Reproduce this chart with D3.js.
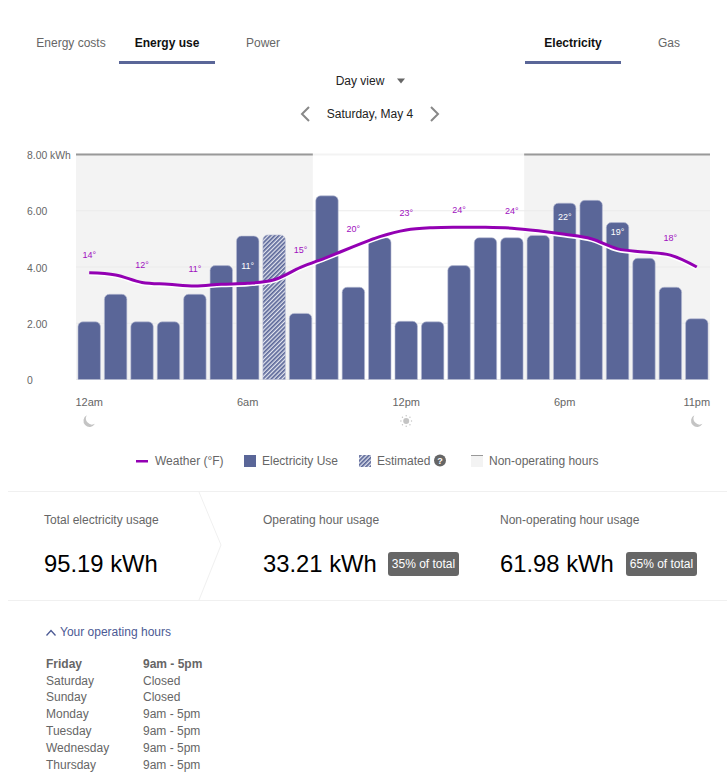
<!DOCTYPE html>
<html>
<head>
<meta charset="utf-8">
<script src="https://cdn.jsdelivr.net/npm/d3@7"></script>
<style>
  html, body { margin: 0; padding: 0; background: #fff; }
  svg { display: block; }
  text { font-family: "Liberation Sans", Arial, sans-serif; }
</style>
</head>
<body>
<div id="chart"></div>
<script>
// values
const hourLabels = ["12am","1am","2am","3am","4am","5am","6am","7am","8am","9am","10am","11am",
                    "12pm","1pm","2pm","3pm","4pm","5pm","6pm","7pm","8pm","9pm","10pm","11pm"];
const usage = [2.05,3.03,2.05,2.05,3.03,4.05,5.1,5.14,2.35,6.53,3.28,5.04,
               2.07,2.05,4.05,5.04,5.04,5.12,6.27,6.37,5.58,4.31,3.28,2.16];
const estimatedHours = ["7am"];
const weather = [13.7,13.2,11.5,11.1,10.7,11.1,11.3,12.1,14.9,17.2,19.6,21.9,
                 23.4,23.9,24,24,23.8,23.2,22.4,21.4,19.1,18.4,17.7,15.0];
const tempLabelHours = ["12am","2am","4am","6am","8am","10am","12pm","2pm","4pm","6pm","8pm","10pm"];
const tempLabels = [14,12,11,11,15,20,23,24,24,22,19,18];
const tempLabelsOnBar = ["6am","6pm","8pm"];
const yTicks = [0,2,4,6,8];
const xTickHours = ["12am","6am","12pm","6pm","11pm"];
const nonOperating = [["12am","8am"],["5pm","11pm"]];
const leftTabs = ["Energy costs","Energy use","Power"];
const rightTabs = ["Electricity","Gas"];
const days = ["Friday","Saturday","Sunday","Monday","Tuesday","Wednesday","Thursday"];
const dayHours = ["9am - 5pm","Closed","Closed","9am - 5pm","9am - 5pm","9am - 5pm","9am - 5pm"];

const barColor = "#5a6698", weatherColor = "#9300b3", grey = "#666";

const svg = d3.select("#chart").append("svg").attr("width", 727).attr("height", 784);

const x = d3.scaleBand().domain(hourLabels).range([76, 710]).paddingInner(0.15).paddingOuter(0.075);
const y = d3.scaleLinear().domain([0, 8]).range([379.5, 154.5]);
const yTemp = d3.scaleLinear().domain([-10.5, 40.5]).range([379.5, 154.5]);
const cx = h => x(h) + x.bandwidth() / 2;

// edges of a shaded non-operating block
const offStart = d => d[0] == "12am" ? 76 : x(d[0]) - x.step() * 0.11;
const offEnd = d => d[1] == "11pm" ? 710 : x(d[1]) + x.step() - x.step() * 0.11;

function label(g, px, py, str, size, color, anchor, weight) {
  return g.append("text").attr("x", px).attr("y", py)
    .attr("dy", "0.35em")
    .attr("font-size", size).attr("fill", color)
    .attr("text-anchor", anchor || "start")
    .attr("font-weight", weight || "normal")
    .text(str);
}

const defs = svg.append("defs");
const hatch = defs.append("pattern").attr("id", "hatch")
  .attr("width", 3).attr("height", 3)
  .attr("patternUnits", "userSpaceOnUse")
  .attr("patternTransform", "rotate(45)");
hatch.append("rect").attr("width", 3).attr("height", 3).attr("fill", "#e4e6ef");
hatch.append("rect").attr("width", 1.7).attr("height", 3).attr("fill", barColor);

// tabs
const tabs = svg.append("g");
leftTabs.forEach((t, i) => {
  label(tabs, 71 + i * 96, 43, t, 12, i == 1 ? "#111" : grey, "middle", i == 1 ? "bold" : "normal");
});
rightTabs.forEach((t, i) => {
  label(tabs, 573 + i * 96, 43, t, 12, i == 0 ? "#111" : grey, "middle", i == 0 ? "bold" : "normal");
});
tabs.append("rect").attr("x", 119).attr("y", 61).attr("width", 96).attr("height", 3).attr("fill", barColor);
tabs.append("rect").attr("x", 525).attr("y", 61).attr("width", 96).attr("height", 3).attr("fill", barColor);

label(tabs, 360, 81, "Day view", 12, "#222", "middle");
tabs.append("path").attr("d", "M397,78.5h8l-4,5z").attr("fill", grey);
label(tabs, 370, 114, "Saturday, May 4", 12, "#222", "middle");
tabs.append("path").attr("d", "M309,107l-7,7l7,7M431,107l7,7l-7,7")
  .attr("fill", "none").attr("stroke", "#888").attr("stroke-width", 2);

// plot background
const plot = svg.append("g");
plot.selectAll("rect.off").data(nonOperating).join("rect")
  .attr("class", "off")
  .attr("x", offStart)
  .attr("y", y(8))
  .attr("width", d => offEnd(d) - offStart(d))
  .attr("height", y(0) - y(8))
  .attr("fill", "#f3f3f3");

plot.selectAll("line.grid").data(yTicks).join("line")
  .attr("class", "grid")
  .attr("x1", 76).attr("x2", 710)
  .attr("y1", d => y(d)).attr("y2", d => y(d))
  .attr("stroke", d => d == 8 ? "#f3f3f3" : "#ebebeb").attr("stroke-width", d => d == 8 ? 2 : 1);

plot.selectAll("line.top").data(nonOperating).join("line")
  .attr("class", "top")
  .attr("x1", offStart)
  .attr("x2", offEnd)
  .attr("y1", y(8)).attr("y2", y(8))
  .attr("stroke", "#999").attr("stroke-width", 2);

// bars, rounded at the top only
function barPath(hour, value) {
  const p = d3.path(), r = 5;
  const x0 = x(hour), x1 = x0 + x.bandwidth(), top = y(value), base = y(0);
  p.moveTo(x0, base);
  p.lineTo(x0, top + r);
  p.arcTo(x0, top, x0 + r, top, r);
  p.lineTo(x1 - r, top);
  p.arcTo(x1, top, x1, top + r, r);
  p.lineTo(x1, base);
  p.closePath();
  return p.toString();
}

plot.selectAll("path.bar").data(hourLabels).join("path")
  .attr("class", "bar")
  .attr("d", (h, i) => barPath(h, usage[i]))
  .attr("fill", h => estimatedHours.includes(h) ? "url(#hatch)" : barColor)
  .attr("stroke", "#b9bed5").attr("stroke-width", 0.6);

// weather line with a white edge under it
const line = d3.line().x((d, i) => cx(hourLabels[i])).y(d => yTemp(d)).curve(d3.curveCatmullRom);
plot.append("path").attr("d", line(weather))
  .attr("transform", "translate(0,1.6)")
  .attr("fill", "none").attr("stroke", "#fff").attr("stroke-width", 3);
plot.append("path").attr("d", line(weather))
  .attr("fill", "none").attr("stroke", weatherColor).attr("stroke-width", 3);

plot.selectAll("text.temp").data(tempLabels).join("text")
  .attr("class", "temp")
  .attr("x", (d, i) => cx(tempLabelHours[i]))
  .attr("y", (d, i) => yTemp(weather[hourLabels.indexOf(tempLabelHours[i])]) - 17.5)
  .attr("dy", "0.35em")
  .attr("text-anchor", "middle")
  .attr("font-size", 9)
  .attr("fill", (d, i) => tempLabelsOnBar.includes(tempLabelHours[i]) ? "#fff" : "#a010c0")
  .text(d => d + "\u00b0");

// axes
const yAxis = d3.axisLeft(y).tickValues(yTicks).tickSize(0)
  .tickFormat(d => d == 0 ? "0" : d == 8 ? "8.00 kWh" : d3.format(".2f")(d));
const yG = svg.append("g").attr("transform", "translate(27,0.7)").call(yAxis);
yG.select(".domain").remove();
yG.selectAll("text").attr("x", 0).attr("text-anchor", "start")
  .attr("font-size", 10.4).attr("font-family", "Liberation Sans").attr("fill", grey);

const xAxis = d3.axisBottom(x).tickValues(xTickHours).tickSize(0);
const xG = svg.append("g").attr("transform", "translate(0,392)").call(xAxis);
xG.select(".domain").remove();
xG.selectAll("text").attr("y", 6)
  .attr("font-size", 11).attr("font-family", "Liberation Sans").attr("fill", grey);

// day and night marks under the axis
const moon = "M-2.2,-5.2A5.6,5.6 0 1 0 5.2,2.6A5.6,5.6 0 0 1 -2.2,-5.2z";
["12am","11pm"].forEach(h => {
  svg.append("path").attr("d", moon).attr("fill", "#c4c4c4")
    .attr("transform", `translate(${cx(h)},421) scale(1.1)`);
});
const sun = svg.append("g").attr("transform", `translate(${cx("12pm")},421)`);
sun.append("circle").attr("r", 3).attr("fill", "#c4c4c4");
sun.selectAll("circle.ray").data(d3.range(8)).join("circle")
  .attr("class", "ray").attr("r", 0.7).attr("fill", "#c4c4c4")
  .attr("cx", d => 5.3 * Math.cos(d * Math.PI / 4))
  .attr("cy", d => 5.3 * Math.sin(d * Math.PI / 4));

// legend
const legend = svg.append("g");
legend.append("rect").attr("x", 136).attr("y", 460).attr("width", 12).attr("height", 2.5).attr("fill", weatherColor);
label(legend, 155, 461, "Weather (\u00b0F)", 12, grey);
legend.append("rect").attr("x", 244).attr("y", 455).attr("width", 12).attr("height", 12).attr("fill", barColor);
label(legend, 262, 461, "Electricity Use", 12, grey);
legend.append("rect").attr("x", 359).attr("y", 455).attr("width", 12).attr("height", 12).attr("fill", "url(#hatch)");
label(legend, 377, 461, "Estimated", 12, grey);
legend.append("circle").attr("cx", 440).attr("cy", 460.5).attr("r", 6).attr("fill", grey);
label(legend, 440, 461, "?", 9, "#fff", "middle", "bold");
legend.append("rect").attr("x", 471).attr("y", 455).attr("width", 12).attr("height", 12).attr("fill", "#f3f3f3");
legend.append("rect").attr("x", 471).attr("y", 455).attr("width", 12).attr("height", 1).attr("fill", "#999");
label(legend, 489, 461, "Non-operating hours", 12, grey);

// totals
const stats = svg.append("g");
stats.append("path").attr("d", "M8,491.5H727M8,600.5H727M199,492L221,545L199,600")
  .attr("fill", "none").attr("stroke", "#f0f0f0");
label(stats, 44, 520, "Total electricity usage", 12, grey);
label(stats, 44, 563.5, "95.19 kWh", 23.8, "#000");
label(stats, 263, 520, "Operating hour usage", 12, grey);
label(stats, 263, 563.5, "33.21 kWh", 23.8, "#000");
label(stats, 500, 520, "Non-operating hour usage", 12, grey);
label(stats, 500, 563.5, "61.98 kWh", 23.8, "#000");
stats.append("rect").attr("x", 388).attr("y", 552).attr("width", 71).attr("height", 24).attr("rx", 3).attr("fill", grey);
label(stats, 423.5, 564, "35% of total", 12, "#fff", "middle");
stats.append("rect").attr("x", 626).attr("y", 552).attr("width", 71).attr("height", 24).attr("rx", 3).attr("fill", grey);
label(stats, 661.5, 564, "65% of total", 12, "#fff", "middle");

// operating hours list
const hoursG = svg.append("g");
hoursG.append("path").attr("d", "M46.5,635.5L51,630.5L55.5,635.5")
  .attr("fill", "none").attr("stroke", "#4c5a94").attr("stroke-width", 1.3);
label(hoursG, 60, 632, "Your operating hours", 12, "#4c5a94");
const rowY = d3.scalePoint().domain(days).range([663.6, 764.6]);
days.forEach((d, i) => {
  const w = i == 0 ? "bold" : "normal";
  label(hoursG, 46, rowY(d), d, 12, grey, "start", w);
  label(hoursG, 143, rowY(d), dayHours[i], 12, grey, "start", w);
});
</script>
</body>
</html>
